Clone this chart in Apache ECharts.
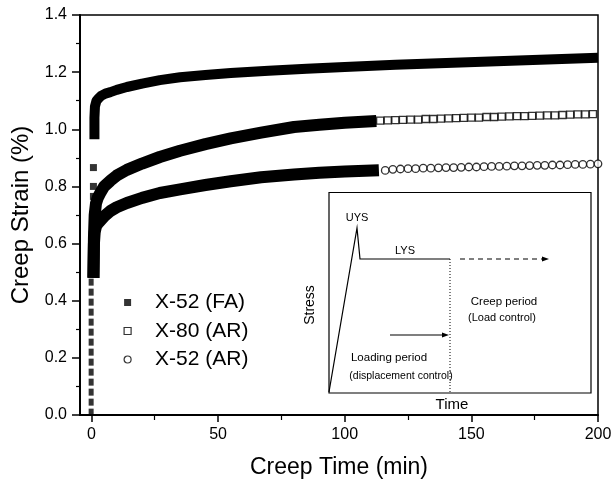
<!DOCTYPE html>
<html><head><meta charset="utf-8">
<script src="https://cdn.jsdelivr.net/npm/echarts@6/dist/echarts.min.js"></script>
<style>html,body{margin:0;padding:0;background:#fff}#c{width:613px;height:480px}</style>
</head><body><div id="c"></div>
<script>
// ---- axis ticks ----
const xTicks = [0, 50, 100, 150, 200];
const xMinorTicks = [25, 75, 125, 175];

// ---- initial loading points (shared start) ----
const loadTime = [-0.1,-0.1,-0.1,-0.1,-0.1,-0.1,-0.1,-0.1,-0.1,-0.1,-0.1,-0.1,-0.1,-0.1];
const loadStrain = [0.01,0.045,0.08,0.115,0.15,0.185,0.22,0.255,0.29,0.325,0.36,0.395,0.43,0.465];

// ---- X-52 (FA) ----
const faJumpTime = [0.8, 0.8, 0.8];
const faJumpStrain = [0.866, 0.80, 0.765];
const faTime = [1.2, 1.2, 1.4, 2, 3, 4, 5.5, 7.5, 10, 14, 20, 27, 35, 45, 55, 70, 85, 100, 120, 140, 160, 180, 200];
const faStrain = [0.965, 1.04, 1.08, 1.10, 1.11, 1.118, 1.125, 1.13, 1.138, 1.148, 1.16, 1.172, 1.182, 1.19, 1.197, 1.205, 1.212, 1.218, 1.226, 1.232, 1.238, 1.244, 1.25];

// ---- X-80 (AR) ----
const x80DenseTime = [0.8, 1.0, 1.3, 1.8, 2.5, 3.5, 5, 7.5, 10, 14, 20, 27, 35, 45, 55, 67, 80, 90, 100, 112.5];
const x80DenseStrain = [0.48, 0.62, 0.70, 0.74, 0.76, 0.777, 0.80, 0.82, 0.838, 0.858, 0.88, 0.903, 0.925, 0.948, 0.968, 0.988, 1.008, 1.016, 1.023, 1.029];
const x80Time = [114,117,120,123,126,129,132,135,138,141,144,147,150,153,156,159,162,165,168,171,174,177,180,183,186,189,192,195,198];
const x80Strain = [1.030,1.031,1.032,1.033,1.034,1.034,1.036,1.036,1.037,1.038,1.039,1.040,1.041,1.041,1.043,1.043,1.044,1.045,1.046,1.046,1.047,1.048,1.049,1.049,1.050,1.051,1.052,1.052,1.053];

// ---- X-52 (AR) ----
const x52DenseTime = [0.8, 1.0, 1.3, 1.8, 2.5, 3.5, 5, 7.5, 10, 14, 20, 27, 35, 45, 55, 67, 80, 90, 100, 113.5];
const x52DenseStrain = [0.48, 0.60, 0.64, 0.66, 0.67, 0.68, 0.695, 0.714, 0.727, 0.742, 0.76, 0.777, 0.79, 0.805, 0.818, 0.832, 0.842, 0.848, 0.852, 0.857];
const x52Time = [116,119,122,125,128,131,134,137,140,143,146,149,152,155,158,161,164,167,170,173,176,179,182,185,188,191,194,197,200];
const x52Strain = [0.856,0.860,0.861,0.862,0.862,0.864,0.864,0.865,0.866,0.866,0.867,0.868,0.868,0.869,0.870,0.870,0.871,0.872,0.872,0.873,0.874,0.874,0.875,0.875,0.876,0.877,0.877,0.878,0.879];

const pairs = (t, v) => t.map((x, i) => [x, v[i]]);
const FONT = '"Liberation Sans", Arial, sans-serif';
const black = '#000';

const chart = echarts.init(document.getElementById('c'), null, {renderer: 'canvas'});

const gridBox = {left: 80, right: 15, top: 15, bottom: 65};

const inset = [];
const Z = 100;
inset.push({type: 'rect', z: Z, shape: {x: 329, y: 192.5, width: 262, height: 200.5}, style: {fill: '#fff', stroke: black, lineWidth: 1.2}});
inset.push({type: 'polyline', z: Z, shape: {points: [[329, 392], [357, 228], [360, 259], [450, 259]]}, style: {stroke: black, lineWidth: 1.2, fill: null}});
inset.push({type: 'line', z: Z, shape: {x1: 460, y1: 259, x2: 544, y2: 259}, style: {stroke: black, lineWidth: 1.2, lineDash: [5, 4]}});
inset.push({type: 'polygon', z: Z, shape: {points: [[549, 259], [542, 256.5], [542, 261.5]]}, style: {fill: black}});
inset.push({type: 'line', z: Z, shape: {x1: 450, y1: 259, x2: 450, y2: 393}, style: {stroke: black, lineWidth: 1, lineDash: [1, 2]}});
inset.push({type: 'line', z: Z, shape: {x1: 390, y1: 335, x2: 444, y2: 335}, style: {stroke: black, lineWidth: 1.2}});
inset.push({type: 'polygon', z: Z, shape: {points: [[449, 335], [442, 332.5], [442, 337.5]]}, style: {fill: black}});
const itxt = (text, x, y, size, rot) => ({type: 'text', z: Z + 1, x: x, y: y, rotation: rot || 0,
  style: {text: text, fill: black, font: size + 'px ' + FONT, align: 'center', verticalAlign: 'middle'}});
inset.push(itxt('UYS', 357, 218, 11));
inset.push(itxt('LYS', 405, 251, 11));
inset.push(itxt('Creep period', 504, 302, 11.5));
inset.push(itxt('(Load control)', 502, 318, 11));
inset.push(itxt('Loading period', 389, 358, 11.5));
inset.push(itxt('(displacement control)', 401, 376, 10.5));
inset.push(itxt('Stress', 310, 305, 14, Math.PI / 2));
inset.push(itxt('Time', 452, 405, 15));

const option = {
  animation: false,
  backgroundColor: '#fff',
  textStyle: {fontFamily: FONT, color: black},
  grid: [
    Object.assign({show: true, borderColor: black, borderWidth: 1.5, backgroundColor: 'transparent', containLabel: false, outerBoundsMode: 'none'}, gridBox),
    Object.assign({show: false, containLabel: false, outerBoundsMode: 'none'}, gridBox)
  ],
  xAxis: [
    {type: 'value', gridIndex: 0, min: -4.5, max: 200,
     axisLine: {show: true, onZero: false, lineStyle: {color: black, width: 2}},
     axisTick: {show: true, customValues: xTicks, length: 7, lineStyle: {color: black, width: 1.5}},
     axisLabel: {customValues: xTicks, color: black, fontSize: 16, margin: 12, fontFamily: FONT},
     splitLine: {show: false},
     name: 'Creep Time (min)', nameLocation: 'middle', nameGap: 41,
     nameTextStyle: {fontSize: 23, color: black, fontFamily: FONT}},
    {type: 'value', gridIndex: 1, min: -4.5, max: 200,
     axisLine: {show: false},
     axisTick: {show: true, customValues: xMinorTicks, length: 5, lineStyle: {color: black, width: 1.2}},
     axisLabel: {show: false},
     splitLine: {show: false}}
  ],
  yAxis: [
    {type: 'value', gridIndex: 0, min: 0, max: 1.4, interval: 0.2,
     axisLine: {show: true, onZero: false, lineStyle: {color: black, width: 2}},
     axisTick: {show: true, length: 8, lineStyle: {color: black, width: 1.5}},
     minorTick: {show: true, splitNumber: 2, length: 4, lineStyle: {color: black, width: 1.2}},
     axisLabel: {color: black, fontSize: 16, margin: 13, fontFamily: FONT, formatter: v => v.toFixed(1)},
     splitLine: {show: false}, minorSplitLine: {show: false},
     name: 'Creep Strain (%)', nameLocation: 'middle', nameGap: 40, nameRotate: 90,
     nameTextStyle: {fontSize: 24, color: black, fontFamily: FONT}},
    {type: 'value', gridIndex: 1, min: 0, max: 1.4, show: false}
  ],
  legend: {
    orient: 'vertical', left: 118.5, top: 287, itemWidth: 7, itemHeight: 7, itemGap: 7.5,
    selectedMode: false,
    textStyle: {fontSize: 21, color: black, fontFamily: FONT, padding: [0, 0, 0, 19]},
    data: [
      {name: 'X-52 (FA)', icon: 'rect', itemStyle: {color: black, borderWidth: 0}},
      {name: 'X-80 (AR)', icon: 'rect', itemStyle: {color: '#fff', borderColor: black, borderWidth: 1.2}},
      {name: 'X-52 (AR)', icon: 'circle', itemStyle: {color: '#fff', borderColor: black, borderWidth: 1.2}}
    ]
  },
  series: [
    {name: 'loading', type: 'scatter', data: pairs(loadTime, loadStrain), symbol: 'rect', symbolSize: [5, 7],
     itemStyle: {color: black}, z: 2, silent: true},
    {name: 'FA-dense', type: 'line', data: pairs(faTime, faStrain), symbol: 'none', showSymbol: false,
     lineStyle: {color: black, width: 10, join: 'round', cap: 'butt'}, z: 3, silent: true},
    {name: 'X-52 (FA)', type: 'scatter', data: pairs(faJumpTime, faJumpStrain), symbol: 'rect', symbolSize: 7,
     itemStyle: {color: black}, z: 3, silent: true},
    {name: 'X80-dense', type: 'line', data: pairs(x80DenseTime, x80DenseStrain), symbol: 'none', showSymbol: false,
     lineStyle: {color: black, width: 12, join: 'round', cap: 'butt'}, z: 3, silent: true},
    {name: 'X-80 (AR)', type: 'scatter', data: pairs(x80Time, x80Strain), symbol: 'rect', symbolSize: 7,
     itemStyle: {color: '#fff', borderColor: black, borderWidth: 1.3}, z: 4, silent: true},
    {name: 'X52-dense', type: 'line', data: pairs(x52DenseTime, x52DenseStrain), symbol: 'none', showSymbol: false,
     lineStyle: {color: black, width: 12, join: 'round', cap: 'butt'}, z: 3, silent: true},
    {name: 'X-52 (AR)', type: 'scatter', data: pairs(x52Time, x52Strain), symbol: 'circle', symbolSize: 7.5,
     itemStyle: {color: '#fff', borderColor: black, borderWidth: 1.3}, z: 4, silent: true}
  ],
  graphic: {elements: inset}
};
chart.setOption(option);
</script>
</body></html>
